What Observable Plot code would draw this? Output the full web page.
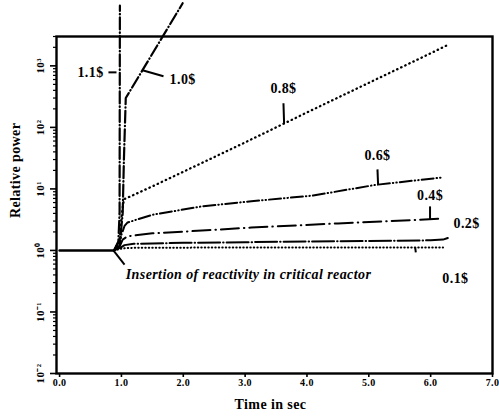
<!DOCTYPE html>
<html><head><meta charset="utf-8">
<script src="https://cdn.jsdelivr.net/npm/d3@7"></script>
<script src="https://cdn.jsdelivr.net/npm/@observablehq/plot@0.6"></script>
<style>body{margin:0;background:#fff}</style>
</head><body><div id="chart"></div>
<script>
// Axis ticks
const decades = [0.01, 0.1, 1, 10, 100, 1000];
const decadeLabels = ["10⁻²", "10⁻¹", "10⁰", "10¹", "10²", "10³"];
const xTicks = [0, 1, 2, 3, 4, 5, 6, 7];
const xTickLabels = ["0.0", "1.0", "2.0", "3.0", "4.0", "5.0", "6.0", "7.0"];

// Series: time (s) and relative power
const baseT = [0, 0.88];
const baseP = [1, 1];
const t11 = [0.88, 0.95, 0.97, 0.975];
const p11 = [1, 1.4, 4, 9500];
const t10 = [0.88, 0.98, 1.02, 1.04, 1.07, 1.99];
const p10 = [1, 1.5, 4, 30, 300, 10400];
const t08 = [0.88, 0.97, 1.0, 1.04, 1.15, 1.5, 2, 3, 4, 5, 6, 6.28];
const p08 = [1, 1.4, 3.5, 6.8, 7.6, 11, 19, 57, 175, 530, 1600, 2200];
const t06 = [0.88, 0.97, 1.0, 1.05, 1.1, 1.5, 2.3, 3.1, 4.1, 5.1, 6.2];
const p06 = [1, 1.2, 1.8, 2.5, 2.85, 3.8, 5.2, 6.3, 7.8, 11.6, 15.4];
const t04 = [0.88, 0.97, 1.02, 1.1, 1.5, 2.3, 3.1, 4.5, 5.8, 6.2];
const p04 = [1, 1.15, 1.5, 1.7, 1.9, 2.1, 2.35, 2.75, 3.15, 3.3];
const t02 = [0.88, 0.98, 1.05, 1.2, 2, 3, 4, 5, 6, 6.2, 6.3];
const p02 = [1, 1.1, 1.22, 1.28, 1.33, 1.36, 1.4, 1.43, 1.46, 1.5, 1.62];
const t01 = [0.88, 1.0, 1.1, 2, 3, 4, 5, 6, 6.2];
const p01 = [1, 1.07, 1.1, 1.11, 1.12, 1.12, 1.12, 1.12, 1.12];

// Curve labels
const labelText = ["1.1$", "1.0$", "0.8$", "0.6$", "0.4$", "0.2$", "0.1$"];
const labelT = [0.50, 1.99, 3.62, 5.14, 5.99, 6.58, 6.40];
const labelP = [784, 603, 430, 35, 7.84, 2.75, 0.35];
// Pointer segments
const ptrT1 = [0.79, 1.34, 3.62, 5.14, 5.99, 5.75, 0.87];
const ptrP1 = [784, 846, 246, 20.8, 5.2, 1.12, 1];
const ptrT2 = [0.92, 1.68, 3.63, 5.15, 5.99, 5.76, 1.05];
const ptrP2 = [784, 676, 118, 11.8, 3.19, 0.93, 0.59];
const noteText = "Insertion of reactivity in critical reactor";
const noteT = 1.07, noteP = 0.41;
const yTitleP = 20;

const xDomain = [-0.05, 7];
const yDomain = [0.01, 3000];
const W = 499, H = 420, mL = 56, mR = 7, mT = 36, mB = 47;
const tPerPx = (xDomain[1] - xDomain[0]) / (W - mL - mR);
const decPerPx = Math.log10(yDomain[1] / yDomain[0]) / (H - mT - mB);

const pairs = (ts, ps) => ts.map((t, i) => ({t, p: ps[i]}));
const minor = [];
for (const d of decades) for (let k = 2; k <= 9; k++) if (d * k <= 3000) minor.push(d * k);

const yTickRows = (vals, len) => vals.map(v => ({y: v, a: xDomain[0], b: xDomain[0] - len * tPerPx}));
const xTickRows = xTicks.map(v => ({x: v, a: yDomain[0], b: yDomain[0] * Math.pow(10, -4 * decPerPx)}));

const curve = (ts, ps, dash, w = 2) => Plot.line(pairs(ts, ps), {
  x: "t", y: "p", stroke: "black", strokeWidth: w, strokeDasharray: dash,
  strokeLinecap: "round", strokeLinejoin: "round"
});

const chart = Plot.plot({
  width: W, height: H,
  marginLeft: mL, marginRight: mR, marginTop: mT, marginBottom: mB,
  style: {fontFamily: "'Liberation Serif', serif", background: "white", overflow: "visible", color: "black", letterSpacing: "0.4px"},
  x: {domain: xDomain, axis: null},
  y: {type: "log", domain: yDomain, axis: null},
  marks: [
    Plot.ruleY(yTickRows(decades, 6), {y: "y", x1: "a", x2: "b", stroke: "black", strokeWidth: 1.6}),
    Plot.ruleY(yTickRows(minor, 3), {y: "y", x1: "a", x2: "b", stroke: "black", strokeWidth: 1.2}),
    Plot.ruleX(xTickRows, {x: "x", y1: "a", y2: "b", stroke: "black", strokeWidth: 1.6}),
    Plot.frame({stroke: "black", strokeWidth: 2.4}),
    Plot.text(decades, {y: d => d, text: (d, i) => decadeLabels[i], frameAnchor: "left", dx: -16,
      rotate: -90, textAnchor: "middle", fontSize: 11, fontWeight: "bold"}),
    Plot.text(xTicks, {x: d => d, text: (d, i) => xTickLabels[i], frameAnchor: "bottom", dy: 12,
      fontSize: 10, fontWeight: "bold"}),
    Plot.text(["Time in sec"], {text: d => d, frameAnchor: "bottom", dy: 35, dx: -4, fontSize: 14, fontWeight: "bold"}),
    Plot.text(["Relative power"], {text: d => d, y: () => yTitleP, frameAnchor: "left", dx: -41, rotate: -90,
      textAnchor: "middle", fontSize: 14, fontWeight: "bold"}),
    curve(baseT, baseP, null, 2.5),
    curve(t11, p11, "12,3,0.5,3", 2.2),
    curve(t10, p10, "12,3,0.5,3", 2.2),
    curve(t08, p08, "0.5,4", 2.3),
    curve(t06, p06, "12,3,0.5,3,0.5,3", 2),
    curve(t04, p04, "18,5,0.5,5", 2),
    curve(t02, p02, "22,3,0.5,3", 2),
    curve(t01, p01, "0.5,3", 2),
    Plot.link(ptrT1, {x1: (d, i) => ptrT1[i], y1: (d, i) => ptrP1[i], x2: (d, i) => ptrT2[i], y2: (d, i) => ptrP2[i],
      stroke: "black", strokeWidth: 2}),
    Plot.text(labelText, {x: (d, i) => labelT[i], y: (d, i) => labelP[i], text: d => d,
      fontSize: 14, fontWeight: "bold"}),
    Plot.text([noteText], {x: () => noteT, y: () => noteP, text: d => d, textAnchor: "start",
      fontSize: 14, fontWeight: "bold", fontStyle: "italic"})
  ]
});
document.getElementById("chart").append(chart);
</script>
</body></html>
